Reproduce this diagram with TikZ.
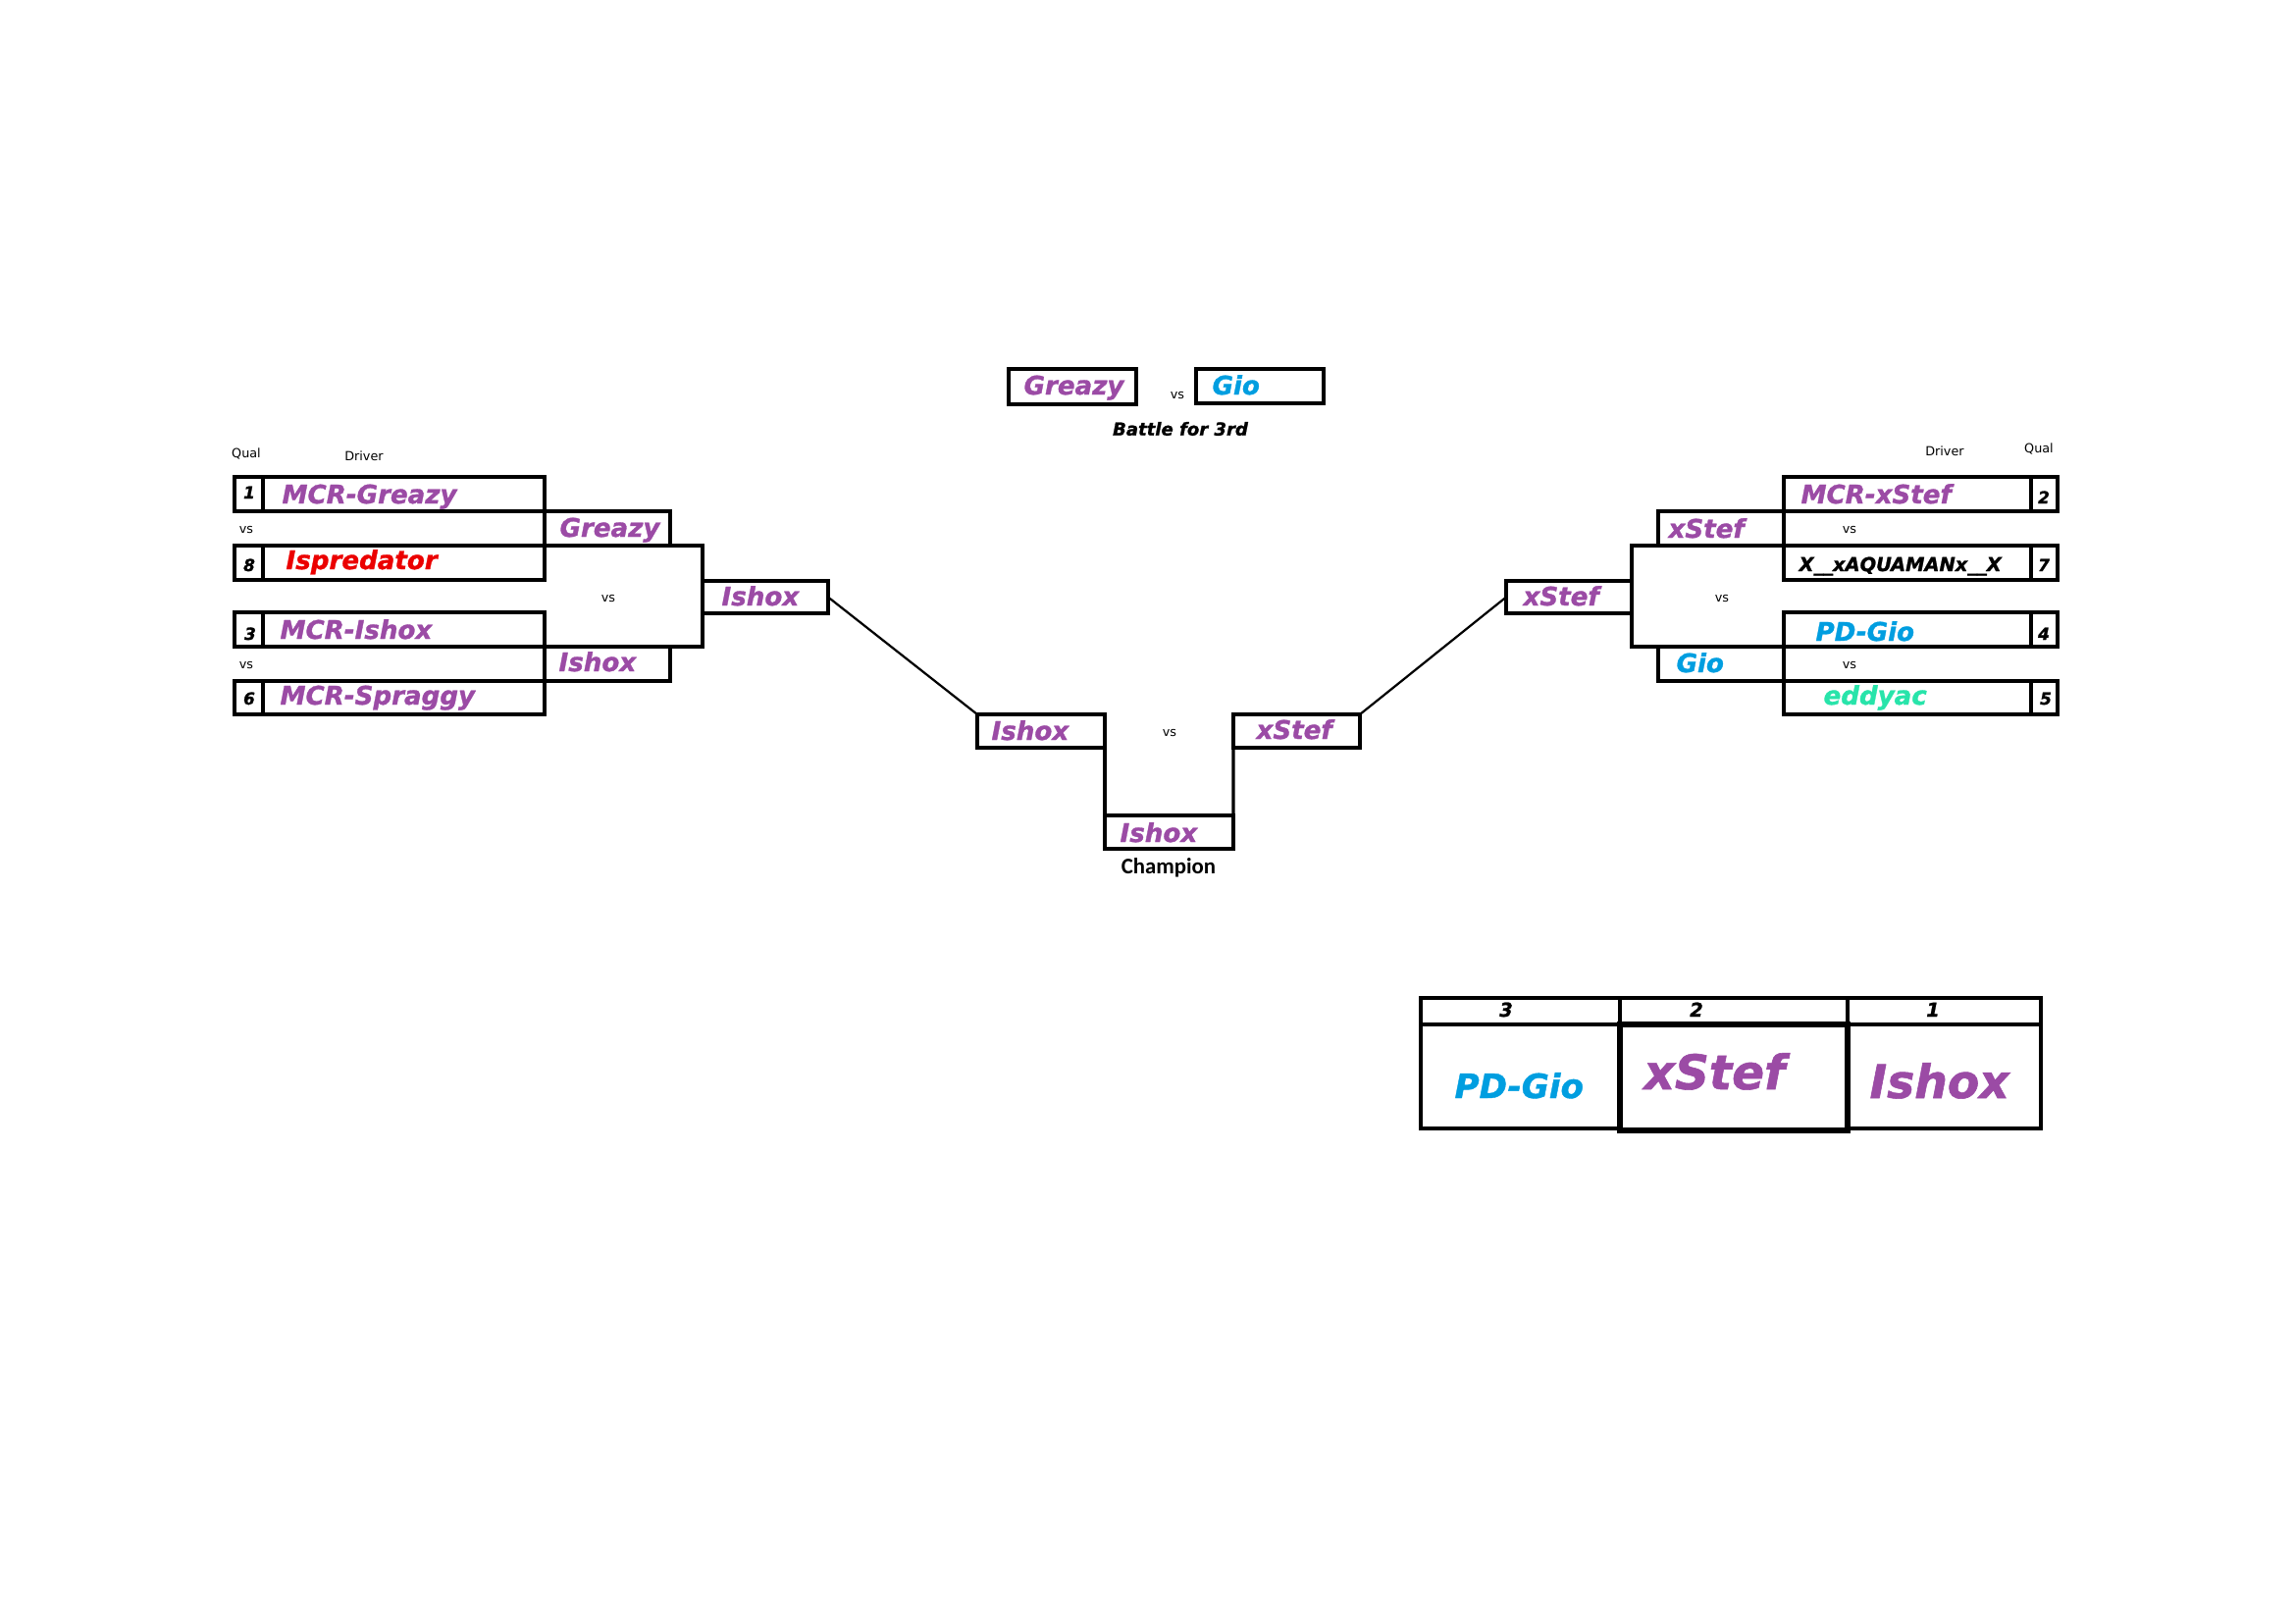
\documentclass[tikz,border=0pt]{standalone}
\usepackage{fontspec}
\newfontfamily\nmfont{DejaVu Sans}[BoldItalicFeatures={FakeBold=1.2}]
\newfontfamily\smfont{DejaVu Sans}
\newfontfamily\chfont{Carlito}
\definecolor{pur}{RGB}{155,75,165}
\definecolor{blu}{RGB}{0,158,224}
\definecolor{rdd}{RGB}{235,0,0}
\definecolor{grn}{RGB}{40,228,170}
\begin{document}
\begin{tikzpicture}[x=0.36pt,y=-0.36pt,
  box/.style={draw, line width=1.1pt, inner sep=0pt, outer sep=0pt, anchor=north west, rectangle},
  tbox/.style={box, line width=1.7pt},
  wh/.style 2 args={minimum width=#1*0.36pt, minimum height=#2*0.36pt},
  conn/.style={draw, line width=1.1pt},
  diag/.style={draw, line width=0.8pt},
  nm/.style={anchor=base west, inner sep=0pt, font=\nmfont\bfseries\itshape\fontsize{9.4}{10}\selectfont},
  num/.style={anchor=base, inner sep=0pt, font=\nmfont\bfseries\itshape\fontsize{6.1}{7}\selectfont},
  sm/.style={inner sep=0pt, font=\smfont\fontsize{4.6}{5}\selectfont},
]
\useasboundingbox (0,0) rectangle (2339,1654);

% ---------- left side ----------
\node[sm] (qualL) at (251,462) {Qual};
\node[sm] (drvL) at (371,465) {Driver};
\node[box, wh={29}{35}] (n1) at (239,486) {};
\node[box, wh={287}{35}] (r1) at (268,486) {};
\node[box, wh={29}{35}] (n8) at (239,556) {};
\node[box, wh={287}{35}] (r8) at (268,556) {};
\node[box, wh={29}{35}] (n3) at (239,624) {};
\node[box, wh={287}{35}] (r3) at (268,624) {};
\node[box, wh={29}{34}] (n6) at (239,694) {};
\node[box, wh={287}{34}] (r6) at (268,694) {};
\node[box, wh={128}{35}] (qg) at (555,521) {};
\node[box, wh={128}{35}] (qi) at (555,659) {};
\node[box, wh={128}{33}] (wL) at (716,592) {};

\node[num] (tn1) at (254,508) {1};
\node[num] (tn8) at (254,582) {8};
\node[num] (tn3) at (255,652) {3};
\node[num] (tn6) at (254,718) {6};
\node[nm, text=pur] (tr1) at (287,513) {MCR-Greazy};
\node[nm, text=rdd] (tr8) at (291,580) {Ispredator};
\node[nm, text=pur] (tr3) at (285,651) {MCR-Ishox};
\node[nm, text=pur] (tr6) at (285,718) {MCR-Spraggy};
\node[nm, text=pur] (tqg) at (570,547) {Greazy};
\node[nm, text=pur] (tqi) at (569,684) {Ishox};
\node[nm, text=pur] (twL) at (735,617) {Ishox};
\node[sm] (vsL1) at (251,540) {vs};
\node[sm] (vsL2) at (251,678) {vs};
\node[sm] (vsL3) at (620,610) {vs};
\draw[conn] (r8.north east) -| (wL.west) |- (r3.south east);

% ---------- right side ----------
\node[sm] (drvR) at (1982,460) {Driver};
\node[sm] (qualR) at (2078,457) {Qual};
\node[box, wh={252}{35}] (rr2) at (1818,486) {};
\node[box, wh={27}{35}] (m2) at (2070,486) {};
\node[box, wh={252}{35}] (rr7) at (1818,556) {};
\node[box, wh={27}{35}] (m7) at (2070,556) {};
\node[box, wh={252}{35}] (rr4) at (1818,624) {};
\node[box, wh={27}{35}] (m4) at (2070,624) {};
\node[box, wh={252}{34}] (rr5) at (1818,694) {};
\node[box, wh={27}{34}] (m5) at (2070,694) {};
\node[box, wh={128}{35}] (qx) at (1690,521) {};
\node[box, wh={128}{35}] (qo) at (1690,659) {};
\node[box, wh={128}{33}] (wR) at (1535,592) {};

\node[num] (tm2) at (2083,513) {2};
\node[num] (tm7) at (2083,582) {7};
\node[num] (tm4) at (2083,652) {4};
\node[num] (tm5) at (2085,718) {5};
\node[nm, text=pur] (trr2) at (1835,513) {MCR-xStef};
\node[nm, text=black, font=\nmfont\bfseries\itshape\fontsize{7}{8}\selectfont] (trr7) at (1833,582) {X\_\_xAQUAMANx\_\_X};
\node[nm, text=blu] (trr4) at (1850,653) {PD-Gio};
\node[nm, text=grn] (trr5) at (1858,718) {eddyac};
\node[nm, text=pur] (tqx) at (1700,548) {xStef};
\node[nm, text=blu] (tqo) at (1708,685) {Gio};
\node[nm, text=pur] (twR) at (1552,617) {xStef};
\node[sm] (vsR1) at (1885,540) {vs};
\node[sm] (vsR2) at (1885,678) {vs};
\node[sm] (vsR3) at (1755,610) {vs};
\draw[conn] (rr7.north west) -| (wR.east) |- (rr4.south west);

% ---------- final ----------
\node[box, wh={130}{34}] (sL) at (996,728) {};
\node[box, wh={129}{34}] (sR) at (1257,728) {};
\node[box, wh={131}{34}] (ch) at (1126,831) {};
\node[nm, text=pur] (tsL) at (1010,754) {Ishox};
\node[nm, text=pur] (tsR) at (1280,753) {xStef};
\node[nm, text=pur] (tch) at (1141,858) {Ishox};
\node[sm] (vsF) at (1192,747) {vs};
\node[inner sep=0pt, font=\chfont\bfseries\fontsize{8.2}{9}\selectfont] (champ) at (1191,884) {Champion};
\draw[diag] (wL.east) -- (sL.north west);
\draw[diag] (wR.west) -- (sR.north east);
\draw[conn] (sL.south east) -- (ch.north west);
\draw[conn] (sR.south west) -- (ch.north east);

% ---------- battle for 3rd ----------
\node[box, wh={130}{36}] (tg) at (1028,376) {};
\node[box, wh={130}{35}] (tgio) at (1219,376) {};
\node[nm, text=pur] (ttg) at (1043,402) {Greazy};
\node[nm, text=blu] (ttgio) at (1235,402) {Gio};
\node[sm] (vsT) at (1200,403) {vs};
\node[inner sep=0pt, font=\nmfont\bfseries\itshape\fontsize{6.5}{7}\selectfont] (b3rd) at (1203,437) {Battle for 3rd};

% ---------- podium table ----------
\node[tbox, wh={203}{27}] (h3) at (1448,1017) {};
\node[tbox, wh={197}{27}] (h1) at (1883,1017) {};
\node[tbox, wh={203}{106}] (b3) at (1448,1044) {};
\node[tbox, wh={197}{106}] (b1) at (1883,1044) {};
\node[tbox, wh={232}{27}] (h2) at (1651,1017) {};
\node[tbox, wh={232}{108}, line width=2pt] (b2) at (1651,1044) {};
\node[num, font=\nmfont\bfseries\itshape\fontsize{7}{8}\selectfont] (th3) at (1535,1036) {3};
\node[num, font=\nmfont\bfseries\itshape\fontsize{7}{8}\selectfont] (th2) at (1729,1036) {2};
\node[num, font=\nmfont\bfseries\itshape\fontsize{7}{8}\selectfont] (th1) at (1970,1036) {1};
\node[nm, text=blu, font=\nmfont\bfseries\itshape\fontsize{12.3}{13}\selectfont] (tb3) at (1482,1119) {PD-Gio};
\node[nm, text=pur, font=\nmfont\bfseries\itshape\fontsize{17.5}{18}\selectfont] (tb2) at (1675,1110) {xStef};
\node[nm, text=pur, font=\nmfont\bfseries\itshape\fontsize{17}{18}\selectfont] (tb1) at (1905,1119) {Ishox};
\end{tikzpicture}
\end{document}
